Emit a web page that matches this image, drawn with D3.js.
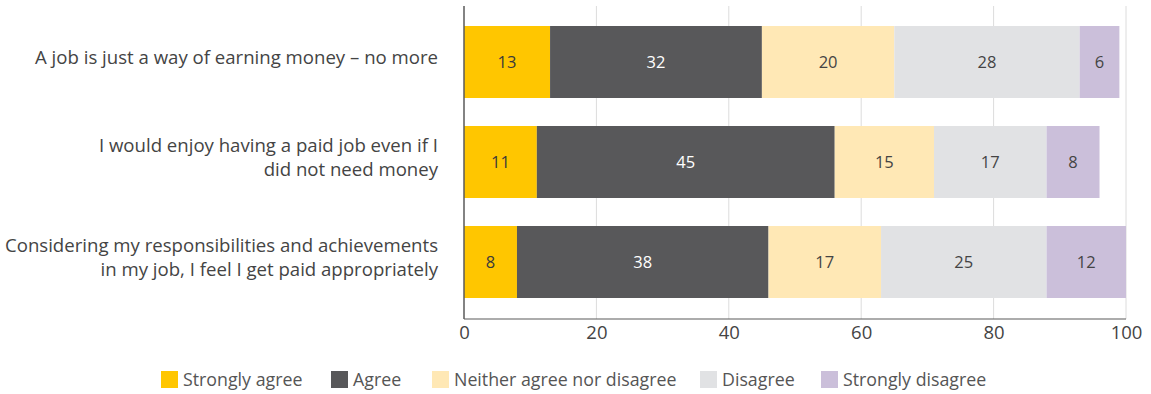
<!DOCTYPE html>
<html>
<head>
<meta charset="utf-8">
<script src="https://cdn.jsdelivr.net/npm/d3@7"></script>
<style>
  html, body { margin: 0; padding: 0; background: #fff; }
  svg { display: block; font-family: "Open Sans", "DejaVu Sans", sans-serif; }
</style>
</head>
<body>
<svg id="chart" width="1151" height="394"></svg>
<script>
// Survey statements (line breaks marked with "|")
const categories = [
  "A job is just a way of earning money – no more",
  "I would enjoy having a paid job even if I|did not need money",
  "Considering my responsibilities and achievements|in my job, I feel I get paid appropriately"
];
const seriesNames = ["Strongly agree", "Agree", "Neither agree nor disagree", "Disagree", "Strongly disagree"];
const stronglyAgree    = [13, 11, 8];
const agree            = [32, 45, 38];
const neither          = [20, 15, 17];
const disagree         = [28, 17, 25];
const stronglyDisagree = [6, 8, 12];
const xTicks = [0, 20, 40, 60, 80, 100];

const colors = ["#FFC600", "#58585A", "#FFE8B5", "#E1E2E4", "#CBBFDA"];
const labelColors = ["#3a3a3a", "#ffffff", "#444444", "#444444", "#444444"];

const seriesValues = [stronglyAgree, agree, neither, disagree, stronglyDisagree];
const rows = categories.map((c, i) => {
  const r = { category: c };
  seriesNames.forEach((s, j) => r[s] = seriesValues[j][i]);
  return r;
});
const stacked = d3.stack().keys(seriesNames)(rows);

const svg = d3.select("#chart");
const plotTop = 6;
const plotBottom = 319;

const x = d3.scaleLinear().domain([0, 100]).range([464, 1126]);
const y = d3.scaleBand().domain(categories).range([12, 312]).paddingInner(0.28).paddingOuter(0.14);

// gridlines
svg.append("g").selectAll("line")
  .data(xTicks.filter(t => t > 0))
  .join("line")
  .attr("x1", d => x(d)).attr("x2", d => x(d))
  .attr("y1", plotTop).attr("y2", plotBottom)
  .attr("stroke", "#dcdcdc").attr("stroke-width", 1);

// bars
const layer = svg.append("g").selectAll("g")
  .data(stacked)
  .join("g")
  .attr("fill", (d, i) => colors[i]);

layer.selectAll("rect")
  .data(d => d.map(v => ({ v, key: d.key })))
  .join("rect")
  .attr("x", d => x(d.v[0]))
  .attr("width", d => x(d.v[1]) - x(d.v[0]))
  .attr("y", d => y(d.v.data.category))
  .attr("height", y.bandwidth());

// value labels
stacked.forEach((s, i) => {
  svg.append("g").selectAll("text")
    .data(s)
    .join("text")
    .attr("x", d => (x(d[0]) + x(d[1])) / 2)
    .attr("y", d => y(d.data.category) + y.bandwidth() / 2)
    .attr("dy", "0.35em")
    .attr("text-anchor", "middle")
    .attr("font-size", 16.5)
    .attr("fill", labelColors[i])
    .text(d => d[1] - d[0]);
});

// axis lines
svg.append("line")
  .attr("x1", x(0)).attr("x2", x(0))
  .attr("y1", plotTop).attr("y2", plotBottom)
  .attr("stroke", "#5a5a5a").attr("stroke-width", 1.5);
svg.append("line")
  .attr("x1", x(0)).attr("x2", x(100))
  .attr("y1", plotBottom).attr("y2", plotBottom)
  .attr("stroke", "#5a5a5a").attr("stroke-width", 1.2);

// x axis tick labels
const xAxis = d3.axisBottom(x).tickValues(xTicks).tickSize(0).tickPadding(7);
const gx = svg.append("g").attr("transform", `translate(0,${plotBottom})`).call(xAxis);
gx.select(".domain").remove();
gx.selectAll("text")
  .attr("font-size", 18.5)
  .attr("fill", "#444")
  .attr("font-family", "'Open Sans', sans-serif");

// category labels
svg.append("g").selectAll("text")
  .data(categories)
  .join("text")
  .attr("text-anchor", "end")
  .attr("font-size", 18.6)
  .attr("fill", "#444")
  .each(function (d) {
    const lines = d.split("|");
    const cy = y(d) + y.bandwidth() / 2 - 5;
    const lh = 24;
    const t = d3.select(this);
    lines.forEach((l, k) => {
      t.append("tspan")
        .attr("x", 438)
        .attr("y", cy + (k - (lines.length - 1) / 2) * lh)
        .attr("dy", "0.35em")
        .text(l);
    });
  });

// legend
const legendX = [161, 331, 432, 700, 821];
const legend = svg.append("g").selectAll("g")
  .data(seriesNames)
  .join("g")
  .attr("transform", (d, i) => `translate(${legendX[i]},371)`);
legend.append("rect")
  .attr("width", 17).attr("height", 17)
  .attr("fill", (d, i) => colors[i]);
legend.append("text")
  .attr("x", 22).attr("y", 8.5).attr("dy", "0.35em")
  .attr("font-size", 17.8)
  .attr("fill", "#555")
  .text(d => d);
</script>
</body>
</html>
